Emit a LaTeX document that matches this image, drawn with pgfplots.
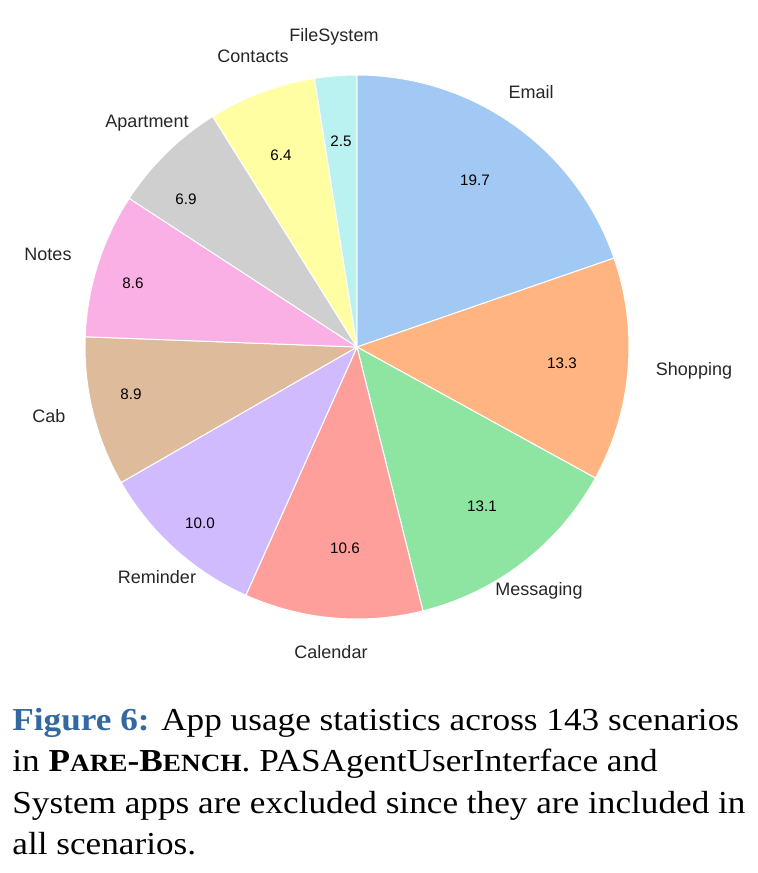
\documentclass[border=0pt]{standalone}
\usepackage{pgfplots}
\pgfplotsset{compat=1.18}
\usepgfplotslibrary{polar}
\usepackage{fontspec}
\setmainfont{Liberation Serif}
\newfontfamily\capfont[FakeStretch=1.1]{Liberation Serif}
\newfontfamily\chartfont{Liberation Sans}
\definecolor{cEmail}{HTML}{A1C9F4}
\definecolor{cShop}{HTML}{FFB482}
\definecolor{cMsg}{HTML}{8DE5A1}
\definecolor{cCal}{HTML}{FF9F9B}
\definecolor{cRem}{HTML}{D0BBFF}
\definecolor{cCab}{HTML}{DEBB9B}
\definecolor{cNotes}{HTML}{FAB0E4}
\definecolor{cApt}{HTML}{CFCFCF}
\definecolor{cCon}{HTML}{FFFEA3}
\definecolor{cFS}{HTML}{B9F2F0}
\definecolor{txt}{HTML}{262626}
\definecolor{capblue}{RGB}{52,104,160}
\begin{document}
\begin{tikzpicture}
\path[use as bounding box] (0,0) rectangle (378.5pt,-436.5pt);
% slice boundaries (degrees), clockwise from 90:
% Email 19.7, Shopping 13.3, Messaging 13.1, Calendar 10.6, Reminder 10.0,
% Cab 8.9, Notes 8.6, Apartment 6.9, Contacts 6.4, FileSystem 2.5 (percent)
\begin{polaraxis}[at={(178.5pt,-173.5pt)}, anchor=center,
  scale only axis, width=272pt, height=272pt,
  xmin=0, xmax=360, ymin=0, ymax=1, hide axis, clip=false]
\addplot[fill=cEmail, draw=white, line width=0.5pt, domain=19.08:90, samples=60] {1} -- (axis cs:0,0) -- cycle;
\addplot[fill=cShop, draw=white, line width=0.5pt, domain=-28.80:19.08, samples=40] {1} -- (axis cs:0,0) -- cycle;
\addplot[fill=cMsg, draw=white, line width=0.5pt, domain=-75.96:-28.80, samples=40] {1} -- (axis cs:0,0) -- cycle;
\addplot[fill=cCal, draw=white, line width=0.5pt, domain=-114.12:-75.96, samples=40] {1} -- (axis cs:0,0) -- cycle;
\addplot[fill=cRem, draw=white, line width=0.5pt, domain=-150.12:-114.12, samples=40] {1} -- (axis cs:0,0) -- cycle;
\addplot[fill=cCab, draw=white, line width=0.5pt, domain=-182.16:-150.12, samples=40] {1} -- (axis cs:0,0) -- cycle;
\addplot[fill=cNotes, draw=white, line width=0.5pt, domain=-213.12:-182.16, samples=40] {1} -- (axis cs:0,0) -- cycle;
\addplot[fill=cApt, draw=white, line width=0.5pt, domain=-237.96:-213.12, samples=30] {1} -- (axis cs:0,0) -- cycle;
\addplot[fill=cCon, draw=white, line width=0.5pt, domain=-261.00:-237.96, samples=30] {1} -- (axis cs:0,0) -- cycle;
\addplot[fill=cFS, draw=white, line width=0.5pt, domain=-270.00:-261.00, samples=20] {1} -- (axis cs:0,0) -- cycle;
\end{polaraxis}
\begin{scope}[x=0.5pt,y=-0.5pt, every node/.style={text=txt, inner sep=0pt}]
\begin{scope}[every node/.append style={font=\chartfont\fontsize{9}{10}\selectfont}]
\node at (334,37) {FileSystem};
\node at (253,56) {Contacts};
\node at (147,123) {Apartment};
\node at (48,254) {Notes};
\node at (49,416) {Cab};
\node at (157,577) {Reminder};
\node at (331,652) {Calendar};
\node at (539,591) {Messaging};
\node at (694,371) {Shopping};
\node at (531,92) {Email};
\end{scope}
\begin{scope}[every node/.append style={font=\chartfont\fontsize{7.6}{9}\selectfont, text=black}]
\node at (475,180) {19.7};
\node at (562,363) {13.3};
\node at (482,506) {13.1};
\node at (345,548) {10.6};
\node at (200,523) {10.0};
\node at (131,394) {8.9};
\node at (133,283) {8.6};
\node at (186,199) {6.9};
\node at (281,155) {6.4};
\node at (341,141) {2.5};
\end{scope}
\node[anchor=north west, align=left, text=black, font=\capfont\fontsize{16}{20.6}\selectfont] at (12,708)
{\textbf{\color{capblue}Figure 6:} App usage statistics across 143 scenarios\\
in \textbf{P{\fontsize{12.4}{20.6}\selectfont ARE}-B{\fontsize{12.4}{20.6}\selectfont ENCH}}. PASAgentUserInterface and\\
System apps are excluded since they are included in\\
all scenarios.};
\end{scope}
\end{tikzpicture}
\end{document}
